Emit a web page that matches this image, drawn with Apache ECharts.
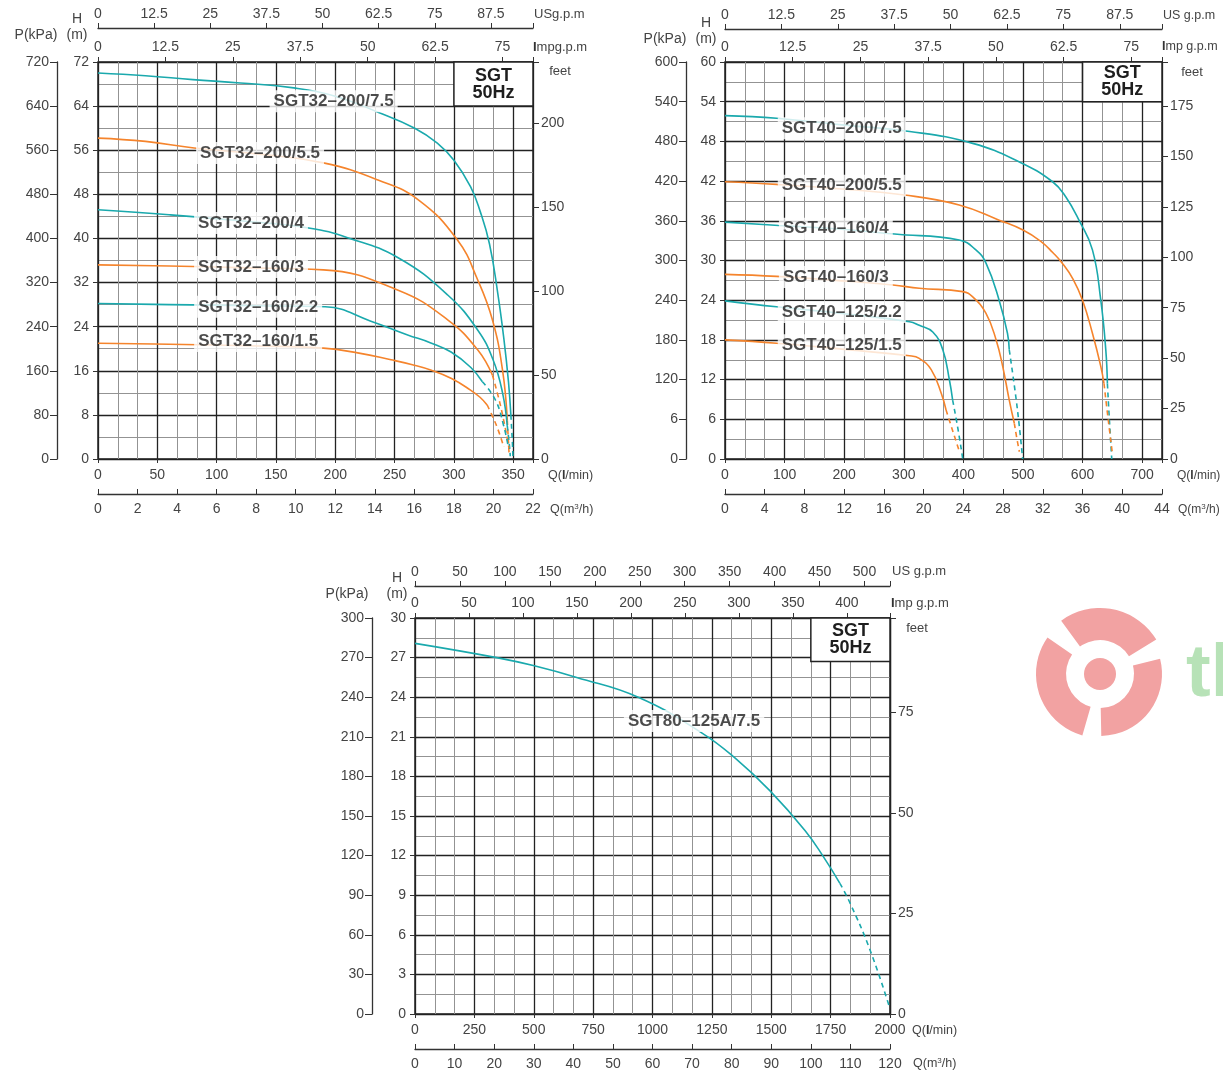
<!DOCTYPE html>
<html><head><meta charset="utf-8">
<script src="https://cdn.jsdelivr.net/npm/echarts@6/dist/echarts.min.js"></script>
<style>html,body{margin:0;padding:0;background:#fff}#c{width:1223px;height:1076px}</style>
</head><body><div id="c"></div>
<script>
// ---------------- DATA (Q in l/min, H in m) ----------------
// Chart 1 : SGT32
const sgt32_200_75      = [[0,70],[40,69.5],[80,68.8],[120,68.2],[165,67.3],[200,65.8],[236,62.9],[267,60],[286,57.3],[300,54.2],[314,49.4],[322,45],[330,39],[337,30],[342,22],[346,14],[348,8]];
const sgt32_200_75_dash = [[348,8],[349.3,3],[349.8,0]];
const sgt32_200_55      = [[0,58.2],[40,57.6],[81,56.4],[136,55.3],[190,53.7],[236,50.6],[270,47],[303,39.7],[320,32.5],[332.5,25.2],[341,16.1],[345,7]];
const sgt32_200_55_dash = [[345,7],[346,3],[346.5,1]];
const sgt32_200_4       = [[0,45.2],[60,44.3],[120,43.2],[177.5,41.9],[211,40.1],[253,36.5],[295,29.7],[320,23.4],[333,18],[341,12],[345,6]];
const sgt32_200_4_dash  = [[345,6],[347,2],[347.5,0.5]];
const sgt32_160_3       = [[0,35.2],[60,35],[120,34.7],[190,34.3],[253,30.6],[295,25.2],[320,19.8],[332.5,15.2]];
const sgt32_160_3_dash  = [[332.5,15.2],[340,9],[346.4,2]];
const sgt32_160_22      = [[0,28.2],[60,28],[135,27.8],[191.5,27.6],[230,25.0],[261,22.5],[280,21.1],[297.6,19.4],[314.3,16.6],[324,14]];
const sgt32_160_22_dash = [[324,14],[335,10.7],[342,6],[346,2]];
const sgt32_160_15      = [[0,21],[60,20.8],[135,20.5],[190,20.1],[220,19.2],[247,18],[265,17.1],[281,16.1],[298,14.6],[314,12.5],[322,11.2],[328,9.8]];
const sgt32_160_15_dash = [[328,9.8],[336,6],[342,2.2]];
const models1 = ['SGT32–200/7.5','SGT32–200/5.5','SGT32–200/4','SGT32–160/3','SGT32–160/2.2','SGT32–160/1.5'];

// Chart 2 : SGT40
const sgt40_200_75      = [[0,51.9],[86.5,51.5],[196,50.5],[310,49.5],[415.7,47.7],[494,44.9],[549.7,41.9],[572,39.6],[594,36.1],[616.6,31.6],[630.6,24],[639,16.5],[641.7,11.4]];
const sgt40_200_75_dash = [[641.7,11.4],[645,6],[649,0]];
const sgt40_200_55      = [[0,41.9],[86.5,41.5],[196,40.8],[301,39.9],[393,38.4],[460,36.1],[500,34.6],[530,32.9],[550,31.2],[566,29.6],[584,27.2],[600,24],[616.6,19],[630.6,14],[636,11.4]];
const sgt40_200_55_dash = [[636,11.4],[643,6],[650,0.9]];
const sgt40_160_4       = [[0,35.8],[90,35.3],[186,34.8],[284.6,34],[393,33.1],[421,31.6],[438,29.6],[460,24],[474,19],[477,16.5]];
const sgt40_160_4_dash  = [[477,16.5],[490,8],[499.5,0]];
const sgt40_160_3       = [[0,27.9],[86.5,27.6],[186,27],[281.8,26.3],[326,25.8],[399,25.3],[415.7,24.5],[438,22],[455,18],[466,14],[477,8.9],[485.5,5.4]];
const sgt40_160_3_dash  = [[485.5,5.4],[490,3],[494,1.1]];
const sgt40_125_22      = [[0,23.9],[86.5,23],[196,22],[309.7,20.75],[326,20.2],[348.7,19.2],[365.5,16.5],[376.7,11.9],[382,8.9]];
const sgt40_125_22_dash = [[382,8.9],[391,4.5],[399,0]];
const sgt40_125_15      = [[0,18],[86.5,17.5],[196,16.6],[309.7,15.6],[326,15.2],[346,13.5],[363,9.9],[371,7.4]];
const sgt40_125_15_dash = [[371,7.4],[383,4],[393.5,1.1]];
const models2 = ['SGT40–200/7.5','SGT40–200/5.5','SGT40–160/4','SGT40–160/3','SGT40–125/2.2','SGT40–125/1.5'];

// Chart 3 : SGT80
const sgt80_125a_75      = [[0,28.08],[344,27.0],[498,26.4],[681,25.5],[940,24.0],[1207,21.3],[1347,19.4],[1495,16.9],[1642,13.9],[1720,11.9],[1789,9.9]];
const sgt80_125a_75_dash = [[1789,9.9],[1832,8.4],[1916,4.85],[2000,0.4]];
const models3 = ['SGT80–125A/7.5'];

// tick steps
const qTicks1 = 50, qTicks2 = 100, qTicks3 = 250;
const m3Ticks1 = 2, m3Ticks2 = 4, m3Ticks3 = 10;

// ---------------- STYLE / LAYOUT ----------------
const TEAL = '#1aa9ad', ORANGE = '#f5842c';
const FONT = 'Liberation Sans, Arial, sans-serif';
const LPM_M3H = 1000/60, LPM_US = 3.78541, LPM_IMP = 4.54609, M_FT = 0.3048;
const TXT = '#444', AX = '#333';

function mult(v, s){ const r = v/s; return Math.abs(r - Math.round(r)) < 1e-6; }
function fmtMult(s, fn){ return v => mult(v, s) ? (fn ? fn(v) : String(+v.toFixed(4))) : ''; }

const charts = [
  { rect:{left:98, top:62, width:435, height:397}, m3Max:22, gridM3:1, qInt:qTicks1, m3Int:m3Ticks1,
    usMax:22*LPM_M3H/LPM_US, usInt:12.5, impMax:22*LPM_M3H/LPM_IMP, impInt:12.5, usOff:34,
    hMax:72, hInt:8, pInt:80, pOff:41, ftInt:50, box:[300,64],
    curves:[[sgt32_200_75,sgt32_200_75_dash,TEAL],[sgt32_200_55,sgt32_200_55_dash,ORANGE],[sgt32_200_4,sgt32_200_4_dash,TEAL],
            [sgt32_160_3,sgt32_160_3_dash,ORANGE],[sgt32_160_22,sgt32_160_22_dash,TEAL],[sgt32_160_15,sgt32_160_15_dash,ORANGE]],
    models:models1, labelAt:[[198.6,64.9],[136.6,55.5],[129,42.8],[129,34.8],[135,27.6],[135,21.4]] },
  { rect:{left:725, top:62, width:437, height:397}, m3Max:44, gridM3:2, qInt:qTicks2, m3Int:m3Ticks2,
    usMax:22*LPM_M3H/LPM_US, usInt:12.5, impMax:22*LPM_M3H/LPM_IMP, impInt:12.5, usOff:33,
    hMax:60, hInt:6, pInt:60, pOff:39, ftInt:25, box:[600,54], pFmt:v => v===60 ? '6' : String(v),
    curves:[[sgt40_200_75,sgt40_200_75_dash,TEAL],[sgt40_200_55,sgt40_200_55_dash,ORANGE],[sgt40_160_4,sgt40_160_4_dash,TEAL],
            [sgt40_160_3,sgt40_160_3_dash,ORANGE],[sgt40_125_22,sgt40_125_22_dash,TEAL],[sgt40_125_15,sgt40_125_15_dash,ORANGE]],
    models:models2, labelAt:[[196,50.0],[196,41.3],[186,34.8],[186,27.5],[196,22.2],[196,17.2]] },
  { rect:{left:415, top:618, width:475, height:396}, m3Max:120, gridM3:5, qInt:qTicks3, m3Int:m3Ticks3,
    usMax:120*LPM_M3H/LPM_US, usInt:50, impMax:120*LPM_M3H/LPM_IMP, impInt:50, usOff:32,
    hMax:30, hInt:3, pInt:30, pOff:43, ftInt:25, box:[1666.7,26.7],
    curves:[[sgt80_125a_75,sgt80_125a_75_dash,TEAL]],
    models:models3, labelAt:[[1175,22.2]] }
];

const grid = [], xAxis = [], yAxis = [], series = [];
const lab = (extra) => Object.assign({fontSize:14, color:TXT, fontFamily:FONT}, extra||{});
const line = (show) => ({show:show, onZero:false, lineStyle:{color:AX, width:1.3}});

charts.forEach((c, k) => {
  const qMax = c.m3Max * LPM_M3H;
  grid.push(Object.assign({show:true, borderColor:'#222', borderWidth:1.5, backgroundColor:'transparent'}, c.rect));
  const bx = xAxis.length, by = yAxis.length;
  // 0: minor vertical grid lines (hidden axis, m3/h units)
  xAxis.push({gridIndex:k, type:'value', position:'bottom', min:0, max:c.m3Max, interval:c.gridM3,
    axisLine:line(false), axisTick:{show:false}, axisLabel:{show:false},
    splitLine:{show:true, lineStyle:{color:'#939393', width:1}}});
  // 1: Q l/min
  xAxis.push({gridIndex:k, type:'value', position:'bottom', min:0, max:qMax, interval:c.qInt,
    axisLine:line(false), axisTick:{show:true, length:4, lineStyle:{color:AX}},
    axisLabel:lab({margin:9, formatter:fmtMult(c.qInt)}),
    splitLine:{show:true, lineStyle:{color:'#222', width:1.3}}});
  // 2: Q m3/h
  xAxis.push({gridIndex:k, type:'value', position:'bottom', offset:35, min:0, max:c.m3Max, interval:c.m3Int,
    axisLine:line(true), axisTick:{show:true, inside:true, length:5, lineStyle:{color:AX}},
    axisLabel:lab({margin:8, formatter:fmtMult(c.m3Int)}), splitLine:{show:false}});
  // 3: Imp gpm
  xAxis.push({gridIndex:k, type:'value', position:'top', offset:0, min:0, max:c.impMax, interval:c.impInt,
    axisLine:line(false), axisTick:{show:true, length:5, lineStyle:{color:AX}},
    axisLabel:lab({margin:8, formatter:fmtMult(c.impInt)}), splitLine:{show:false}});
  // 4: US gpm
  xAxis.push({gridIndex:k, type:'value', position:'top', offset:c.usOff, min:0, max:c.usMax, interval:c.usInt,
    axisLine:line(true), axisTick:{show:true, length:5, lineStyle:{color:AX}},
    axisLabel:lab({margin:7, formatter:fmtMult(c.usInt)}), splitLine:{show:false}});
  // y0: H
  yAxis.push({gridIndex:k, type:'value', position:'left', min:0, max:c.hMax, interval:c.hInt,
    axisLine:line(false), axisTick:{show:true, length:5, lineStyle:{color:AX}},
    axisLabel:lab({margin:9}),
    splitLine:{show:true, lineStyle:{color:'#222', width:1.3}},
    minorTick:{show:false, splitNumber:2}, minorSplitLine:{show:true, lineStyle:{color:'#939393', width:1}}});
  // y1: P
  yAxis.push({gridIndex:k, type:'value', position:'left', offset:c.pOff, min:0, max:c.hMax*10, interval:c.pInt,
    axisLine:line(true), axisTick:{show:true, length:7, lineStyle:{color:AX}},
    axisLabel:lab({margin:8, formatter:c.pFmt || (v=>String(v))}), splitLine:{show:false}});
  // y2: feet
  yAxis.push({gridIndex:k, type:'value', position:'right', min:0, max:c.hMax/M_FT, interval:c.ftInt,
    axisLine:line(false), axisTick:{show:true, length:6, lineStyle:{color:AX}},
    axisLabel:lab({margin:8, formatter:fmtMult(c.ftInt)}), splitLine:{show:false}});

  c.curves.forEach(([solid, dash, col]) => {
    const base = {type:'line', xAxisIndex:bx+1, yAxisIndex:by, symbol:'none', smooth:0.45, silent:true, z:3};
    series.push(Object.assign({}, base, {data:solid, lineStyle:{color:col, width:1.6}}));
    series.push(Object.assign({}, base, {data:dash, lineStyle:{color:col, width:1.6, type:[5,4]}}));
  });
  series.push({type:'scatter', xAxisIndex:bx+1, yAxisIndex:by, symbolSize:1, silent:true, z:6,
    itemStyle:{color:'rgba(0,0,0,0)'},
    data:c.models.map((m,i)=>({name:m, value:c.labelAt[i]})),
    label:{show:true, position:'inside', formatter:'{b}', backgroundColor:'#fff', padding:[3,4,2,4],
      fontSize:17, fontWeight:'bold', color:'#1e1e1e', fontFamily:FONT},
    markArea:{silent:true, itemStyle:{color:'#fff', borderColor:'#222', borderWidth:1.5},
      label:{show:true, position:'inside', formatter:'SGT\n50Hz', fontSize:18, fontWeight:'bold', color:'#1e1e1e',
        lineHeight:17, fontFamily:FONT},
      data:[[{coord:[c.box[0], c.box[1]]},{coord:[qMax, c.hMax]}]]}
  });
});

// axis names
function t(x, y, text, align, size){
  const fs = size || 13;
  return {type:'text', x:x, y:y, silent:true, style:{text:text, fill:TXT, font:fs+'px '+FONT,
    align:align||'left', verticalAlign:'middle',
    rich:{b:{fontWeight:'bold', fontSize:fs, fill:'#333', fontFamily:FONT}, s:{fontSize:8, verticalAlign:'top', fill:TXT, fontFamily:FONT, padding:[0,0,6,0]}}}};
}
const names = [
  t(36,35,'P(kPa)','center',14), t(77,19,'H','center',14), t(77,35,'(m)','center',14),
  t(534,14,'USg.p.m'), t(533,47,'{b|I}mpg.p.m'), t(560,71,'feet','center'),
  t(548,476,'Q({b|l}/min)',0,12.5), t(550,510,'Q(m{s|3}/h)',0,12.5),
  t(665,39,'P(kPa)','center',14), t(706,23,'H','center',14), t(706,39,'(m)','center',14),
  t(1163,16,'US g.p.m',0,12.5), t(1162,47,'{b|I}mp g.p.m',0,12.5), t(1192,72,'feet','center'),
  t(1177,476,'Q({b|l}/min)',0,12), t(1178,510,'Q(m{s|3}/h)',0,12),
  t(347,594,'P(kPa)','center',14), t(397,578,'H','center',14), t(397,594,'(m)','center',14),
  t(892,571,'US g.p.m'), t(891,603,'{b|I}mp g.p.m'), t(917,628,'feet','center'),
  t(912,1031,'Q({b|l}/min)',0,12.5), t(913,1064,'Q(m{s|3}/h)',0,12.5)
];
// watermark logo
const PINK = '#f2a2a2';
const logo = {type:'group', x:1100, y:674, silent:true, children:[
  {type:'sector', shape:{cx:0, cy:0, r:66, r0:34, startAngle:-2.2, endAngle:-0.55}, style:{fill:PINK}},
  {type:'sector', shape:{cx:0, cy:0, r:62, r0:34, startAngle:-0.25, endAngle:1.55}, style:{fill:PINK}},
  {type:'sector', shape:{cx:0, cy:0, r:64, r0:34, startAngle:1.85, endAngle:3.75}, style:{fill:PINK}},
  {type:'circle', shape:{cx:0, cy:0, r:16}, style:{fill:PINK}}
]};
const logoText = {type:'text', x:1186, y:676, silent:true, style:{text:'tl', fill:'#b7e2b7', font:'bold 74px '+FONT, verticalAlign:'middle'}};

const chart = echarts.init(document.getElementById('c'), null, {renderer:'canvas'});
chart.setOption({animation:false, textStyle:{fontFamily:FONT}, grid, xAxis, yAxis, series,
  graphic:names.concat([logo, logoText])});
</script></body></html>
